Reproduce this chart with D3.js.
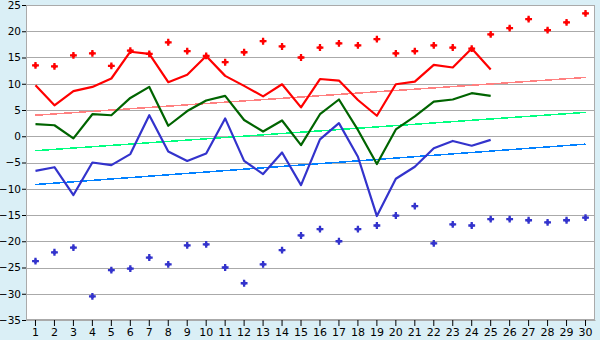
<!DOCTYPE html>
<html>
<head>
<meta charset="utf-8">
<script src="https://cdn.jsdelivr.net/npm/d3@7"></script>
<style>
  body { margin: 0; background: #daeff6; }
  #chart { display: block; }
  .axis text { font-family: "DejaVu Sans", Verdana, sans-serif; font-size: 11px; fill: #000; }
</style>
</head>
<body>
<svg id="chart" width="600" height="340"></svg>
<script>
// days on the x axis
var days = d3.range(1, 31);

// series (days 1..25)
var redLine = [9.7, 5.9, 8.6, 9.4, 11.0, 16.1, 15.7, 10.3, 11.7, 15.3, 11.5, 9.6, 7.6, 9.9, 5.5, 10.9, 10.6, 6.9, 3.9, 9.9, 10.4, 13.6, 13.1, 16.7, 12.7];
var greenLine = [2.3, 2.1, -0.4, 4.2, 4.0, 7.3, 9.4, 2.0, 4.8, 6.8, 7.7, 3.1, 0.9, 3.0, -1.7, 4.2, 7.0, 1.2, -5.3, 1.3, 3.8, 6.6, 7.0, 8.2, 7.7];
var blueLine = [-6.6, -5.9, -11.2, -5.0, -5.5, -3.4, 4.0, -2.9, -4.7, -3.3, 3.4, -4.7, -7.2, -3.1, -9.3, -0.6, 2.5, -3.9, -15.2, -8.1, -5.8, -2.3, -0.9, -1.8, -0.7];

// record points (days 1..30)
var redPoints = [13.5, 13.3, 15.4, 15.8, 13.4, 16.3, 15.7, 17.9, 16.2, 15.3, 14.1, 16.0, 18.1, 17.1, 15.0, 16.9, 17.7, 17.3, 18.5, 15.8, 16.2, 17.3, 16.9, 16.7, 19.4, 20.6, 22.3, 20.2, 21.7, 23.4];
var bluePoints = [-23.8, -22.1, -21.2, -30.5, -25.5, -25.2, -23.1, -24.4, -20.8, -20.6, -25.0, -28.0, -24.4, -21.7, -18.9, -17.7, -20.0, -17.7, -17.0, -15.1, -13.3, -20.4, -16.8, -17.0, -15.8, -15.8, -16.0, -16.4, -16.0, -15.5];

// normals: value on day 1 and day 30
var redNormal = [4.0, 11.2];
var greenNormal = [-2.75, 4.55];
var blueNormal = [-9.2, -1.5];

var yTicks = d3.range(-35, 26, 5);

var margin = {top: 5, right: 5, bottom: 20, left: 26},
    width = 600 - margin.left - margin.right,
    height = 340 - margin.top - margin.bottom;

var svg = d3.select('#chart');
var g = svg.append('g')
    .attr('transform', 'translate(' + margin.left + ',' + margin.top + ')');

var xScale = d3.scaleBand().domain(days).range([0, width]);
var yScale = d3.scaleLinear().domain([-35, 25]).range([height, 0]);
var cx = function(d) { return xScale(d) + xScale.bandwidth() / 2; };

// plot background
g.append('rect')
    .attr('width', width)
    .attr('height', height)
    .attr('fill', '#fff');

// grid lines
g.append('g').selectAll('line')
    .data(yTicks)
    .enter().append('line')
    .attr('x1', 0).attr('x2', width)
    .attr('y1', function(d) { return Math.round(yScale(d)) + 0.5; })
    .attr('y2', function(d) { return Math.round(yScale(d)) + 0.5; })
    .attr('stroke', '#aaaaaa');

// frame
g.append('rect')
    .attr('x', 0.5).attr('y', 0.5)
    .attr('width', width - 1).attr('height', height - 1)
    .attr('fill', 'none')
    .attr('stroke', '#aaaaaa');

// axes
var xAxis = d3.axisBottom(xScale).tickSize(6).tickSizeOuter(0);
var yAxis = d3.axisLeft(yScale).tickValues(yTicks).tickSize(4).tickSizeOuter(0);

g.append('g')
    .attr('class', 'x axis')
    .attr('transform', 'translate(0,' + height + ')')
    .call(xAxis)
    .call(function(a) {
      a.select('.domain').attr('stroke', '#aaaaaa');
      a.selectAll('.tick line').attr('stroke', '#000');
      a.selectAll('text').attr('y', 8);
    });

g.append('g')
    .attr('class', 'y axis')
    .call(yAxis)
    .call(function(a) {
      a.select('.domain').attr('stroke', '#aaaaaa');
      a.selectAll('.tick line').attr('stroke', '#000');
      a.selectAll('text').attr('x', -5).style('font-size', '10.5px');
    });

// normals
var normals = [
  {vals: redNormal, color: '#ff8080'},
  {vals: greenNormal, color: '#00ff80'},
  {vals: blueNormal, color: '#0080ff'}
];
g.append('g').selectAll('line')
    .data(normals)
    .enter().append('line')
    .attr('x1', cx(days[0]))
    .attr('x2', cx(days[days.length - 1]))
    .attr('y1', function(d) { return yScale(d.vals[0]); })
    .attr('y2', function(d) { return yScale(d.vals[1]); })
    .attr('stroke', function(d) { return d.color; })
    .attr('stroke-width', 1.5)
    .attr('shape-rendering', 'crispEdges');

// main lines
var line = d3.line()
    .x(function(d, i) { return cx(days[i]); })
    .y(function(d) { return yScale(d); });

var series = [
  {vals: redLine, color: '#ff0000'},
  {vals: greenLine, color: '#006400'},
  {vals: blueLine, color: '#3333cc'}
];
g.append('g').selectAll('path')
    .data(series)
    .enter().append('path')
    .attr('d', function(d) { return line(d.vals); })
    .attr('fill', 'none')
    .attr('stroke', function(d) { return d.color; })
    .attr('stroke-width', 2.2)
    .attr('stroke-linejoin', 'round');

// record markers (plus shape with diamond core)
var cross = d3.symbol().type(d3.symbolCross).size(26);
var core = d3.symbol().type(d3.symbolSquare).size(14);
var pointSets = [
  {vals: redPoints, color: '#ff0000'},
  {vals: bluePoints, color: '#3333cc'}
];
pointSets.forEach(function(s) {
  var mk = g.append('g').selectAll('g')
      .data(s.vals)
      .enter().append('g')
      .attr('transform', function(d, i) { return 'translate(' + cx(days[i]) + ',' + yScale(d) + ')'; })
      .attr('fill', s.color);
  mk.append('path').attr('d', cross);
  mk.append('path').attr('d', core).attr('transform', 'rotate(45)');
});
</script>
</body>
</html>
